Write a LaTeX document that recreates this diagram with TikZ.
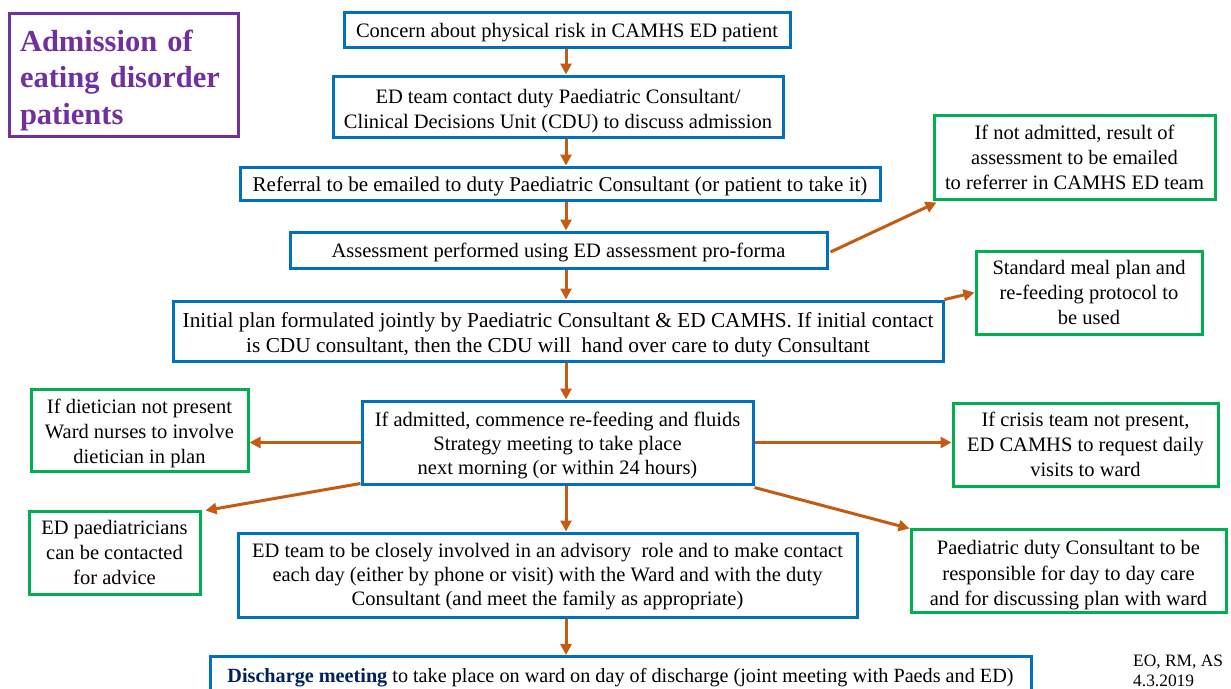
\documentclass[tikz,border=0pt]{standalone}
\usepackage{fontspec}
\setmainfont{Liberation Serif}
\usetikzlibrary{arrows.meta}
\definecolor{boxblue}{RGB}{0,112,192}
\definecolor{boxgreen}{RGB}{0,176,80}
\definecolor{boxpurple}{RGB}{112,48,160}
\definecolor{arrorange}{RGB}{197,90,17}
\definecolor{navy}{RGB}{0,32,96}
\newcommand\tstrut[1]{\rule{0pt}{#1pt}}
\tikzset{
  basebox/.style={draw, line width=3pt, rectangle, inner sep=0pt, align=center,
    font=\fontsize{20.5}{25}\selectfont, fill=white},
  bbox/.style={basebox, draw=boxblue},
  gbox/.style={basebox, draw=boxgreen},
  ts/.style={execute at begin node={\rule{0pt}{#1pt}}},
  arr/.style={draw=arrorange, line width=3pt, -{Triangle[length=11pt,width=11pt]}, arrorange},
}
\begin{document}
\begin{tikzpicture}[x=1pt,y=1pt]
\useasboundingbox (0,0) rectangle (1231,-688);
\clip (0,0) rectangle (1231,-688);
% title
\node[draw=boxpurple, line width=3pt, minimum width=229pt, minimum height=123pt,
  text width=207pt, inner xsep=11pt, inner ysep=0pt, align=left, ts=32.9,
  font=\fontsize{30.5}{36.5}\selectfont\bfseries, text=boxpurple] (title) at (123.5,-74.5)
  {Admission of\\eating disorder\\patients};
% main chain
\node[bbox, ts=20.2, minimum width=446pt, minimum height=35pt] (b1) at (567,-29.5)
  {Concern about physical risk in CAMHS ED patient};
\node[bbox, minimum width=450pt, minimum height=61pt] (b2) at (558,-106.5)
  {\tstrut{22.5}ED team contact duty Paediatric Consultant/\\Clinical Decisions Unit (CDU) to discuss admission};
\node[bbox, ts=20.2, minimum width=640pt, minimum height=33pt, font=\fontsize{21}{25}\selectfont] (b3) at (560,-183.5)
  {Referral to be emailed to duty Paediatric Consultant (or patient to take it)};
\node[bbox, ts=20.2, minimum width=537pt, minimum height=36pt] (b4) at (558.5,-250)
  {Assessment performed using ED assessment pro-forma};
\node[bbox, minimum width=770pt, minimum height=60pt, font=\fontsize{21.3}{25}\selectfont] (b5) at (558,-331)
  {\tstrut{23.5}Initial plan formulated jointly by Paediatric Consultant \& ED CAMHS. If initial contact\\is CDU consultant, then the CDU will\ \ hand over care to duty Consultant};
\node[bbox, minimum width=391pt, minimum height=83pt, font=\fontsize{20.5}{24}\selectfont] (b6) at (557.5,-442.5)
  {\tstrut{20.2}If admitted, commence re-feeding and fluids\\Strategy meeting to take place\\next morning (or within 24 hours)};
\node[bbox, minimum width=619pt, minimum height=84pt, font=\fontsize{20.5}{24}\selectfont] (b7) at (547.5,-575)
  {\tstrut{18.2}ED team to be closely involved in an advisory\ \ role and to make contact\\each day (either by phone or visit) with the Ward and with the duty\\Consultant (and meet the family as appropriate)};
\node[bbox, ts=20.2, minimum width=821pt, minimum height=37pt, anchor=north, font=\fontsize{20.2}{25}\selectfont] (b8) at (620.5,-655)
  {\textcolor{navy}{\textbf{Discharge meeting}} to take place on ward on day of discharge (joint meeting with Paeds and ED)};
% side boxes
\node[gbox, minimum width=281pt, minimum height=84pt] (g1) at (1074.5,-157)
  {If not admitted, result of\\assessment to be emailed\\to referrer in CAMHS ED team};
\node[gbox, minimum width=226pt, minimum height=83pt] (g2) at (1089,-292.5)
  {Standard meal plan and\\re-feeding protocol to\\be used};
\node[gbox, minimum width=217pt, minimum height=82pt] (g3) at (139.5,-430)
  {\tstrut{21.2}If dietician not present\\Ward nurses to involve\\dietician in plan};
\node[gbox, minimum width=265pt, minimum height=83pt] (g4) at (1085.5,-444.5)
  {If crisis team not present,\\ED CAMHS to request daily\\visits to ward};
\node[gbox, minimum width=171pt, minimum height=83pt] (g5) at (114.5,-552.5)
  {ED paediatricians\\can be contacted\\for advice};
\node[gbox, minimum width=315pt, minimum height=83pt, font=\fontsize{20.5}{25.5}\selectfont] (g6) at (1068.5,-570.5)
  {\tstrut{23.5}Paediatric duty Consultant to be\\responsible for day to day care\\and for discussing plan with ward};
% footer
\node[anchor=north west, align=left, inner sep=0pt, font=\fontsize{17.4}{19.5}\selectfont] (ft) at (1133,-655)
  {EO, RM, AS\\4.3.2019};
% arrows
\coordinate (ax) at (566,0);
\draw[arr] (b1.south -| ax) -- (b2.north -| ax);
\draw[arr] (b2.south -| ax) -- (b3.north -| ax);
\draw[arr] (b3.south -| ax) -- (b4.north -| ax);
\draw[arr] (b4.south -| ax) -- (b5.north -| ax);
\draw[arr] (b5.south -| ax) -- (b6.north -| ax);
\draw[arr] (b6.south -| ax) -- (b7.north -| ax);
\draw[arr] (b7.south -| ax) -- (b8.north -| ax);
\draw[arr] ([xshift=2pt,yshift=-2pt]b4.east) -- ([xshift=4pt,yshift=-2pt]g1.south west);
\draw[arr] (b5.north east) -- (g2.west);
\draw[arr] (b6.west) -- (b6.west -| g3.east);
\draw[arr] (b6.east) -- (b6.east -| g4.west);
\draw[arr] ([yshift=2pt]b6.south west) -- ([xshift=4pt,yshift=-1pt]g5.north east);
\draw[arr] ([yshift=-2pt]b6.south east) -- ([yshift=-1pt]g6.north west);
\end{tikzpicture}
\end{document}
